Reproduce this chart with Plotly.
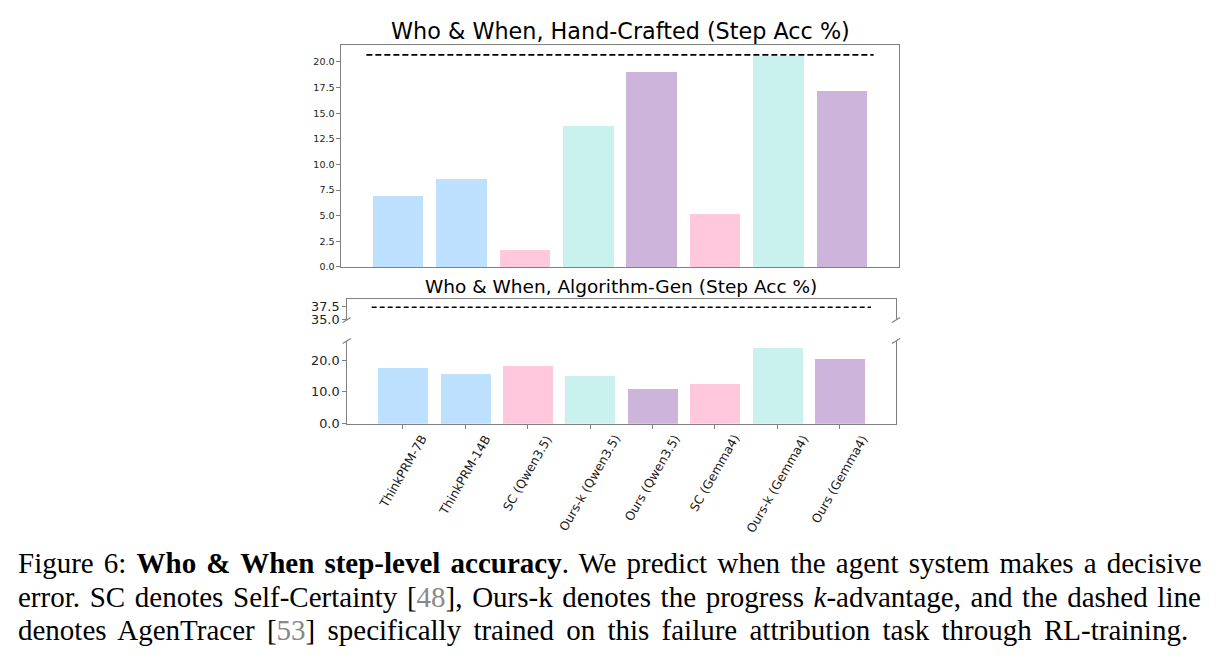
import plotly.graph_objects as go

# ---------------- data ----------------
categories = ["ThinkPRM-7B", "ThinkPRM-14B", "SC (Qwen3.5)", "Ours-k (Qwen3.5)",
              "Ours (Qwen3.5)", "SC (Gemma4)", "Ours-k (Gemma4)", "Ours (Gemma4)"]
hand_crafted = [6.9, 8.6, 1.7, 13.8, 19.0, 5.2, 20.6, 17.2]
algorithm_gen = [17.4, 15.8, 18.2, 14.9, 11.0, 12.6, 23.7, 20.5]
agentracer_hand = 20.7
agentracer_algo = 37.4
top_ticks = [0.0, 2.5, 5.0, 7.5, 10.0, 12.5, 15.0, 17.5, 20.0]
upper_ticks = [35.0, 37.5]
lower_ticks = [0.0, 10.0, 20.0]

# ---------------- styles ----------------
BLUE, PINK, MINT, PURPLE = "#bde0fe", "#ffc8dd", "#c9f1ed", "#cdb4db"
bar_colors = [BLUE, BLUE, PINK, MINT, PURPLE, PINK, MINT, PURPLE]
SPINE = "#808080"
W, H = 1219, 659
H_EFF = 652.2  # vertical calibration of the capture


def px(x):
    return x / W


def py(y):
    return 1 - y / H_EFF


idx = list(range(len(categories)))
xr = [-0.9, len(categories) - 0.1]
line_x = [-0.5, len(categories) - 0.5]

fig = go.Figure()

# top panel
fig.add_trace(go.Bar(x=idx, y=hand_crafted, marker_color=bar_colors, width=0.8,
                     marker_line_width=0, xaxis="x", yaxis="y", showlegend=False))
fig.add_trace(go.Scatter(x=line_x, y=[agentracer_hand] * 2, mode="lines",
                         line=dict(color="black", width=1.8, dash="6px,3px"),
                         xaxis="x", yaxis="y", showlegend=False))
# bottom panel, upper part (broken axis)
fig.add_trace(go.Bar(x=idx, y=algorithm_gen, marker_color=bar_colors, width=0.8,
                     marker_line_width=0, xaxis="x2", yaxis="y2", showlegend=False))
fig.add_trace(go.Scatter(x=line_x, y=[agentracer_algo] * 2, mode="lines",
                         line=dict(color="black", width=1.5, dash="5px,3px"),
                         xaxis="x2", yaxis="y2", showlegend=False))
# bottom panel, lower part
fig.add_trace(go.Bar(x=idx, y=algorithm_gen, marker_color=bar_colors, width=0.8,
                     marker_line_width=0, xaxis="x3", yaxis="y3", showlegend=False))
fig.add_trace(go.Scatter(x=line_x, y=[agentracer_algo] * 2, mode="lines",
                         line=dict(color="black", width=1.5, dash="5px,3px"),
                         xaxis="x3", yaxis="y3", showlegend=False))

axfont_small = dict(family="DejaVu Sans", size=9.5, color="#222")
axfont_big = dict(family="DejaVu Sans", size=12.8, color="#222")

fig.update_layout(
    width=W, height=H, margin=dict(l=0, r=0, t=0, b=0),
    paper_bgcolor="white", plot_bgcolor="white",
    bargap=0,
    xaxis=dict(domain=[px(341), px(899)], range=xr, anchor="y",
               showline=True, mirror=True, linecolor=SPINE, linewidth=1.2,
               showgrid=False, zeroline=False, showticklabels=False, ticks=""),
    yaxis=dict(domain=[py(267), py(45)], range=[0, 21.66], anchor="x",
               showline=True, mirror=True, linecolor=SPINE, linewidth=1.2,
               showgrid=False, zeroline=False, tickvals=top_ticks,
               ticktext=[f"{v:.1f}" for v in top_ticks],
               ticks="outside", ticklen=3.5, tickcolor=SPINE, tickfont=axfont_small),
    xaxis2=dict(domain=[px(346.7), px(896)], range=xr, anchor="y2", side="top",
                showline=True, mirror=False, linecolor=SPINE, linewidth=1.2,
                showgrid=False, zeroline=False, showticklabels=False, ticks=""),
    yaxis2=dict(domain=[py(320), py(299)], range=[35, 39], anchor="x2",
                showline=True, mirror=True, linecolor=SPINE, linewidth=1.2,
                showgrid=False, zeroline=False, tickvals=upper_ticks,
                ticktext=[f"{v:.1f}" for v in upper_ticks],
                ticks="outside", ticklen=3.5, tickcolor=SPINE, tickfont=axfont_big),
    xaxis3=dict(domain=[px(346.7), px(896)], range=xr, anchor="y3",
                showline=True, mirror=False, linecolor=SPINE, linewidth=1.2,
                showgrid=False, zeroline=False, showticklabels=False,
                tickvals=idx, ticks="outside", ticklen=4, tickcolor=SPINE),
    yaxis3=dict(domain=[py(424), py(341)], range=[0, 26], anchor="x3",
                showline=True, mirror=True, linecolor=SPINE, linewidth=1.2,
                showgrid=False, zeroline=False, tickvals=lower_ticks,
                ticktext=[f"{v:.1f}" for v in lower_ticks],
                ticks="outside", ticklen=3.5, tickcolor=SPINE, tickfont=axfont_big),
)

annotations = []
# titles
annotations.append(dict(text="Who & When, Hand-Crafted (Step Acc %)", xref="paper", yref="paper",
                        x=px(620), y=py(31), xanchor="center", yanchor="middle", showarrow=False,
                        font=dict(family="DejaVu Sans", size=22.3, color="black")))
annotations.append(dict(text="Who & When, Algorithm-Gen (Step Acc %)", xref="paper", yref="paper",
                        x=px(621), y=py(287), xanchor="center", yanchor="middle", showarrow=False,
                        font=dict(family="DejaVu Sans", size=18.5, color="black")))
# rotated category labels (centred on ticks, like matplotlib rotation=60)
for i, c in zip(idx, categories):
    annotations.append(dict(text=c, xref="x3", yref="paper", x=i, y=py(424), yshift=-6,
                            xanchor="center", yanchor="top", textangle=-60, showarrow=False,
                            font=dict(family="DejaVu Sans", size=12.3, color="#1a1a1a")))
# caption (justified via word-spacing)
GREY = "#888888"
cap_font = dict(family="Liberation Serif", size=29, color="black")
caption_lines = [
    ("Figure 6: <b>Who &amp; When step-level accuracy</b>. We predict when the agent system makes a decisive", 2.9),
    (f"error. SC denotes Self-Certainty [<span style='color:{GREY}'>48</span>], Ours-k denotes the progress <i>k</i>-advantage, and the dashed line", 2.4),
    (f"denotes AgenTracer [<span style='color:{GREY}'>53</span>] specifically trained on this failure attribution task through RL-training.", 5.0),
]
for yy, (t, ws) in zip([563, 597, 630], caption_lines):
    annotations.append(dict(text=f"<span style='word-spacing:{ws}px'>{t}</span>", xref="paper", yref="paper",
                            x=px(16), y=py(yy),
                            xanchor="left", yanchor="middle", showarrow=False, font=cap_font))
fig.update_layout(annotations=annotations)

# broken-axis marks
shapes = []
for xs in (346.7, 896):
    for ys in (320, 341):
        shapes.append(dict(type="line", xref="paper", yref="paper",
                           x0=px(xs - 4), y0=py(ys + 2.5), x1=px(xs + 4), y1=py(ys - 2.5),
                           line=dict(color=SPINE, width=1.2)))
fig.update_layout(shapes=shapes)

fig.write_html("out.html")
